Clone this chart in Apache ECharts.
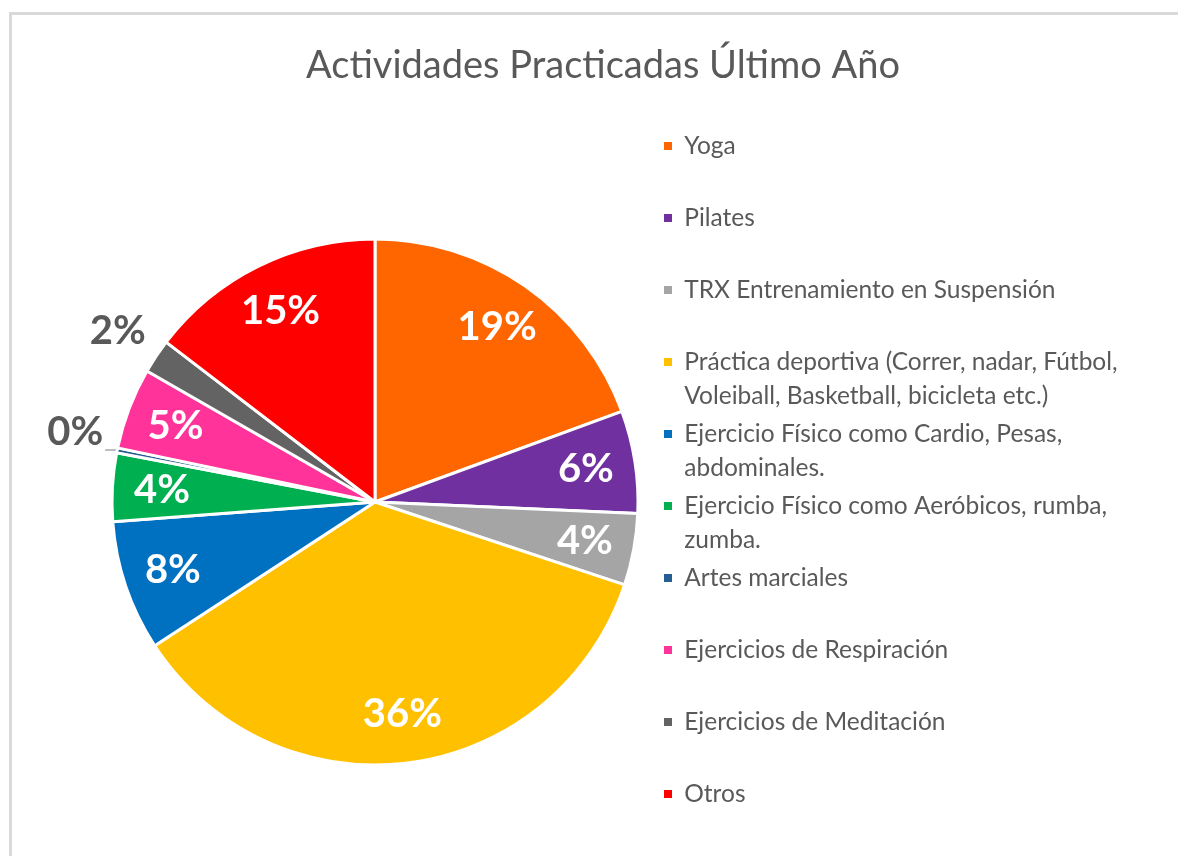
<!DOCTYPE html>
<html>
<head>
<meta charset="utf-8">
<script src="https://cdn.jsdelivr.net/npm/echarts@6/dist/echarts.min.js"></script>
<style>
  html, body { margin: 0; padding: 0; background: #fff; overflow: hidden; }
  #frame {
    position: absolute; left: 9px; top: 12px; width: 1200px; height: 900px;
    border: 3px solid #d9d9d9; box-sizing: border-box;
  }
  #chart { position: absolute; left: 0; top: 0; width: 1178px; height: 856px; }
</style>
</head>
<body>
<div id="frame"></div>
<div id="chart"></div>
<script>
// categorias (\n = salto de linea en la leyenda)
const categories = [
  "Yoga",
  "Pilates",
  "TRX Entrenamiento en Suspensión",
  "Práctica deportiva (Correr, nadar, Fútbol,\nVoleiball, Basketball, bicicleta etc.)",
  "Ejercicio Físico como Cardio, Pesas,\nabdominales.",
  "Ejercicio Físico como Aeróbicos, rumba,\nzumba.",
  "Artes marciales",
  "Ejercicios de Respiración",
  "Ejercicios de Meditación",
  "Otros",
];
// porcentajes
const values = [19.4, 6.3, 4.4, 35.7, 8.0, 4.2, 0.3, 5.0, 2.1, 14.6];
const colors = ["#FF6600", "#7030A0", "#A5A5A5", "#FFC000", "#0070C0",
  "#00B050", "#255E91", "#FF3399", "#636363", "#FF0000"];

const FONT = "Lato";
const center = [375, 502];
const R = 263;
const lineH = 34;

let chart = echarts.init(document.getElementById("chart"));

let pct = (p) => Math.round(p.percent) + "%";

let outsideLabel = {
  fontFamily: FONT,
  fontSize: 40,
  fontWeight: "bold",
  color: "#595959",
};

let baseData = categories.map((name, i) => ({
  name: name,
  value: values[i],
  itemStyle: { color: colors[i] },
}));

// una leyenda por elemento, cada una en su propia franja de 72px
let legends = categories.map((name, i) => {
  let twoLines = name.indexOf("\n") >= 0;
  let iconY = 146 + i * 72;
  return {
    data: [name],
    left: 657,
    top: twoLines ? iconY - 1.5 * lineH - 5 : iconY - lineH / 2 - 5,
    icon: "rect",
    itemWidth: 10,
    itemHeight: 10,
    itemGap: 0,
    selectedMode: false,
    // linea vacia arriba para que el icono quede a la altura de la primera linea
    formatter: (n) => {
      let lines = n.split("\n").map((s) => " " + s);
      return (twoLines ? " \n" : "") + lines.join("\n");
    },
    textStyle: {
      fontFamily: FONT,
      fontSize: 24.5,
      color: "#595959",
      lineHeight: lineH,
    },
  };
});

let option = {
  animation: false,
  title: {
    text: "Actividades Practicadas Último Año",
    left: 598,
    top: 42,
    textAlign: "center",
    textStyle: { fontFamily: FONT, fontSize: 38, fontWeight: "normal", color: "#595959" },
  },
  legend: legends,
  series: [
    {
      // porciones
      type: "pie",
      center: center,
      radius: R,
      startAngle: 90,
      clockwise: true,
      avoidLabelOverlap: false,
      silent: true,
      itemStyle: { borderColor: "#fff", borderWidth: 3 },
      label: { show: false },
      labelLine: { show: false },
      data: baseData.map((d) => {
        if (d.name !== "Artes marciales") return d;
        // 0% fuera con linea guia corta (linea vacia debajo para subir el texto)
        return Object.assign({}, d, {
          label: Object.assign({
            show: true,
            position: "outside",
            formatter: (p) => pct(p) + "\n ",
            lineHeight: 36,
            distanceToLabelLine: 2,
          }, outsideLabel),
          labelLine: { show: true, length: 2, length2: 10, lineStyle: { color: "#a6a6a6", width: 1.5 } },
        });
      }),
    },
    {
      // etiquetas internas (a 0.8 del radio)
      type: "pie",
      center: center,
      radius: [R * 0.6, R],
      startAngle: 90,
      clockwise: true,
      avoidLabelOverlap: false,
      silent: true,
      itemStyle: { color: "transparent", borderWidth: 0 },
      label: {
        show: true,
        position: "inside",
        formatter: pct,
        fontFamily: FONT,
        fontSize: 40,
        fontWeight: "bold",
        color: "#fff",
      },
      labelLine: { show: false },
      data: baseData.map((d) => ({
        name: d.name,
        value: d.value,
        label: { show: d.name !== "Artes marciales" && d.name !== "Ejercicios de Meditación" },
      })),
    },
    {
      // etiqueta externa del 2%
      type: "pie",
      center: center,
      radius: [R, R + 86],
      startAngle: 90,
      clockwise: true,
      avoidLabelOverlap: false,
      silent: true,
      itemStyle: { color: "transparent", borderWidth: 0 },
      label: Object.assign({ show: true, position: "inside", formatter: pct }, outsideLabel),
      labelLine: { show: false },
      data: baseData.map((d) => ({
        name: d.name,
        value: d.value,
        label: { show: d.name === "Ejercicios de Meditación" },
      })),
    },
  ],
};

chart.setOption(option);
</script>
</body>
</html>
